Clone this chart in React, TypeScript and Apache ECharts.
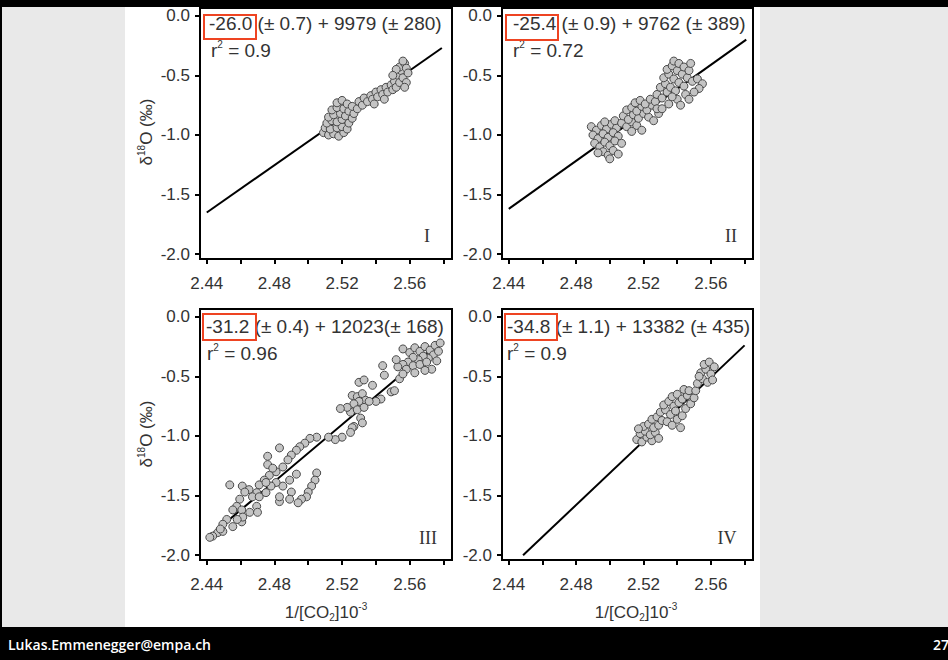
import React, { useEffect, useRef } from "react";
import * as echarts from "echarts";

// ---------- data ----------
const xLabelValues = [2.44, 2.48, 2.52, 2.56];
const xTickValues = [2.44, 2.46, 2.48, 2.5, 2.52, 2.54, 2.56, 2.58];
const yTickValues = [0, -0.5, -1, -1.5, -2];

const equationTexts = [
  "-26.0 (± 0.7) + 9979 (± 280)",
  "-25.4 (± 0.9) + 9762 (± 389)",
  "-31.2 (± 0.4) + 12023(± 168)",
  "-34.8 (± 1.1) + 13382 (± 435)",
];
const r2Values = ["0.9", "0.72", "0.96", "0.9"];
const panelNumerals = ["I", "II", "III", "IV"];

const fitLine1 = [[2.44, -1.65], [2.579, -0.27]];
const fitLine2 = [[2.44, -1.62], [2.581, -0.2]];
const fitLine3 = [[2.44, -1.86], [2.579, -0.2]];
const fitLine4 = [[2.4485, -2.0], [2.58, -0.24]];

const points1 = [
  [2.509, -0.98], [2.512, -1.0], [2.515, -0.99], [2.518, -1.01], [2.521, -0.98],
  [2.51, -0.94], [2.513, -0.95], [2.517, -0.94], [2.52, -0.93], [2.523, -0.95],
  [2.511, -0.9], [2.514, -0.88], [2.517, -0.89], [2.52, -0.87], [2.524, -0.9],
  [2.512, -0.85], [2.515, -0.83], [2.519, -0.82], [2.522, -0.84], [2.526, -0.86],
  [2.514, -0.79], [2.517, -0.77], [2.521, -0.78], [2.524, -0.8], [2.527, -0.82],
  [2.517, -0.73], [2.52, -0.71], [2.523, -0.74], [2.526, -0.76], [2.529, -0.78],
  [2.53, -0.72], [2.532, -0.75], [2.533, -0.69], [2.535, -0.72], [2.537, -0.67],
  [2.538, -0.7], [2.54, -0.64], [2.541, -0.68], [2.543, -0.62], [2.544, -0.66],
  [2.546, -0.6], [2.545, -0.7], [2.539, -0.74],
  [2.547, -0.64], [2.549, -0.58], [2.55, -0.62], [2.551, -0.55], [2.552, -0.6],
  [2.553, -0.5], [2.554, -0.56], [2.555, -0.46], [2.556, -0.52], [2.554, -0.43],
  [2.557, -0.4], [2.556, -0.38], [2.558, -0.44], [2.559, -0.48], [2.552, -0.45],
  [2.55, -0.5], [2.558, -0.56], [2.557, -0.6],
];

const points2 = [
  [2.489, -0.93], [2.492, -0.96], [2.495, -0.92], [2.498, -0.95], [2.501, -0.91],
  [2.504, -0.94], [2.49, -1.0], [2.493, -1.03], [2.496, -0.99], [2.499, -1.02],
  [2.502, -0.98], [2.505, -1.01], [2.491, -1.07], [2.494, -1.1], [2.497, -1.06],
  [2.5, -1.09], [2.503, -1.05], [2.496, -1.14], [2.499, -1.17], [2.502, -1.13],
  [2.505, -1.16], [2.5, -1.2], [2.493, -1.15], [2.507, -1.07], [2.497, -0.89],
  [2.503, -0.88],
  [2.507, -0.9], [2.51, -0.93], [2.513, -0.89], [2.516, -0.92], [2.508, -0.84],
  [2.511, -0.87], [2.514, -0.83], [2.517, -0.86], [2.52, -0.82], [2.523, -0.85],
  [2.51, -0.79], [2.513, -0.77], [2.516, -0.8], [2.519, -0.76], [2.522, -0.79],
  [2.525, -0.75], [2.515, -0.73], [2.518, -0.71], [2.521, -0.74], [2.524, -0.7],
  [2.527, -0.72], [2.519, -0.96], [2.513, -0.97], [2.526, -0.88], [2.529, -0.82],
  [2.528, -0.78],
  [2.528, -0.66], [2.531, -0.69], [2.534, -0.64], [2.53, -0.6], [2.533, -0.57],
  [2.536, -0.6], [2.539, -0.63], [2.532, -0.52], [2.535, -0.49], [2.538, -0.53],
  [2.541, -0.56], [2.544, -0.59], [2.534, -0.45], [2.537, -0.42], [2.54, -0.46],
  [2.543, -0.49], [2.546, -0.52], [2.538, -0.38], [2.541, -0.4], [2.544, -0.43],
  [2.547, -0.46], [2.549, -0.55], [2.552, -0.53], [2.555, -0.57], [2.553, -0.61],
  [2.55, -0.64], [2.545, -0.66], [2.54, -0.7], [2.535, -0.74], [2.531, -0.78],
  [2.537, -0.68], [2.542, -0.75], [2.547, -0.7], [2.548, -0.4],
];

const points3 = [
  [2.556, -0.27], [2.56, -0.3], [2.563, -0.26], [2.566, -0.29], [2.569, -0.25],
  [2.572, -0.28], [2.575, -0.24], [2.574, -0.32], [2.571, -0.35], [2.568, -0.33],
  [2.565, -0.36], [2.562, -0.34], [2.559, -0.38], [2.556, -0.4], [2.553, -0.42],
  [2.558, -0.44], [2.562, -0.41], [2.566, -0.4], [2.57, -0.38], [2.573, -0.44],
  [2.576, -0.37], [2.577, -0.29], [2.563, -0.47], [2.569, -0.45], [2.552, -0.36],
  [2.578, -0.22],
  [2.544, -0.41], [2.545, -0.49], [2.554, -0.52], [2.556, -0.48], [2.53, -0.55],
  [2.533, -0.53], [2.538, -0.575], [2.549, -0.63], [2.551, -0.62], [2.543, -0.69],
  [2.54, -0.71],
  [2.526, -0.66], [2.529, -0.67], [2.532, -0.645], [2.534, -0.7], [2.53, -0.71],
  [2.527, -0.73], [2.525, -0.8], [2.529, -0.78], [2.533, -0.76], [2.536, -0.71],
  [2.531, -0.85], [2.532, -0.89], [2.527, -0.92], [2.523, -0.76], [2.519, -0.77],
  [2.526, -0.93], [2.525, -0.97], [2.52, -1.01], [2.516, -1.03], [2.512, -1.01],
  [2.505, -1.01], [2.501, -1.02], [2.498, -1.06], [2.495, -1.09], [2.493, -1.12],
  [2.49, -1.16], [2.483, -1.1],
  [2.488, -1.2], [2.485, -1.26], [2.481, -1.3], [2.477, -1.33], [2.474, -1.37],
  [2.471, -1.41], [2.476, -1.17], [2.476, -1.24], [2.479, -1.27],
  [2.493, -1.32], [2.489, -1.37], [2.485, -1.42], [2.481, -1.39],
  [2.505, -1.31], [2.504, -1.37], [2.502, -1.42], [2.5, -1.47], [2.499, -1.51],
  [2.496, -1.53], [2.494, -1.56], [2.49, -1.47], [2.489, -1.53], [2.483, -1.55],
  [2.483, -1.51],
  [2.4536, -1.41], [2.461, -1.42], [2.465, -1.45], [2.4696, -1.475], [2.4625, -1.47],
  [2.467, -1.51], [2.471, -1.51], [2.475, -1.475], [2.478, -1.42], [2.475, -1.39],
  [2.4595, -1.53], [2.4577, -1.59], [2.4554, -1.62], [2.4607, -1.62], [2.4654, -1.64],
  [2.4695, -1.59], [2.47, -1.64],
  [2.4518, -1.7], [2.4495, -1.74], [2.4554, -1.76], [2.4607, -1.72], [2.4613, -1.68],
  [2.4465, -1.81], [2.4435, -1.84], [2.4495, -1.8], [2.4418, -1.85], [2.458, -1.7],
  [2.448, -1.78],
];

const points4 = [
  [2.516, -1.03], [2.519, -1.05], [2.522, -1.01], [2.525, -1.04], [2.518, -0.98],
  [2.521, -0.96], [2.524, -0.99], [2.527, -0.97], [2.52, -0.92], [2.523, -0.9],
  [2.526, -0.93], [2.529, -0.91], [2.525, -0.86], [2.528, -0.84], [2.531, -0.87],
  [2.529, -1.02], [2.517, -0.94],
  [2.53, -0.8], [2.533, -0.78], [2.536, -0.82], [2.532, -0.74], [2.535, -0.71],
  [2.538, -0.75], [2.541, -0.72], [2.537, -0.67], [2.54, -0.65], [2.543, -0.69],
  [2.546, -0.66], [2.534, -0.88], [2.537, -0.91], [2.54, -0.86], [2.543, -0.83],
  [2.539, -0.79], [2.545, -0.77], [2.548, -0.73], [2.55, -0.68], [2.544, -0.61],
  [2.547, -0.62], [2.551, -0.62], [2.542, -0.93],
  [2.552, -0.56], [2.555, -0.52], [2.558, -0.55], [2.554, -0.47], [2.557, -0.44],
  [2.56, -0.48], [2.556, -0.4], [2.559, -0.38], [2.562, -0.42], [2.561, -0.53],
  [2.553, -0.5],
];

const allPoints = [points1, points2, points3, points4];
const allFits = [fitLine1, fitLine2, fitLine3, fitLine4];

// ---------- layout ----------
const SANS = "'Liberation Sans', Arial, sans-serif";
const SERIF = "'Liberation Serif', 'Times New Roman', serif";
const TEXT = "#333";
const RED = "#ee4422";

const grids = [
  { left: 200, top: 8, width: 252, height: 251 },
  { left: 502, top: 8, width: 251, height: 251 },
  { left: 200, top: 309, width: 252, height: 251 },
  { left: 502, top: 309, width: 251, height: 251 },
];
const eqPos = [[209, 23], [513, 23], [206, 326], [507, 326]];
const r2Pos = [[211, 50], [513, 50], [207, 353], [507, 353]];
const boxPos = [[204, 15, 52, 24], [506, 15, 52, 25], [203, 314, 53, 26], [505, 314, 52, 26]];
const numeralPos = [[427, 236], [731, 236], [428, 538], [727, 538]];

function buildOption() {
  const xAxis = grids.map((_, i) => ({
    type: "value",
    gridIndex: i,
    min: 2.436,
    max: 2.585,
    axisLine: { show: true, onZero: false, lineStyle: { color: "#000", width: 2 } },
    axisTick: {
      show: true,
      customValues: xTickValues,
      length: 5,
      lineStyle: { color: "#000", width: 2 },
    },
    axisLabel: {
      customValues: xLabelValues,
      formatter: (v: number) => v.toFixed(2),
      color: TEXT,
      fontSize: 17,
      fontFamily: SANS,
      margin: 16,
    },
    splitLine: { show: false },
  }));
  const yAxis = grids.map((_, i) => ({
    type: "value",
    gridIndex: i,
    min: -2.04,
    max: 0.065,
    axisLine: { show: true, onZero: false, lineStyle: { color: "#000", width: 2 } },
    axisTick: {
      show: true,
      customValues: yTickValues,
      length: 5,
      lineStyle: { color: "#000", width: 2 },
    },
    axisLabel: {
      customValues: yTickValues,
      formatter: (v: number) => (Math.abs(v) < 1e-9 ? "0.0" : v.toFixed(1)),
      color: TEXT,
      fontSize: 17,
      fontFamily: SANS,
      margin: 10,
    },
    splitLine: { show: false },
  }));

  const series: any[] = [];
  allPoints.forEach((pts, i) => {
    series.push({
      type: "line",
      xAxisIndex: i,
      yAxisIndex: i,
      data: allFits[i],
      symbol: "none",
      lineStyle: { color: "#000", width: 2 },
      z: 1,
      silent: true,
    });
    series.push({
      type: "scatter",
      xAxisIndex: i,
      yAxisIndex: i,
      data: pts,
      symbol: "circle",
      symbolSize: 8,
      itemStyle: { color: "#c4c4c4", borderColor: "#4a4a4a", borderWidth: 1, opacity: 1 },
      z: 2,
      silent: true,
    });
  });

  const graphic: any[] = [];
  equationTexts.forEach((t, i) => {
    graphic.push({
      type: "text",
      x: eqPos[i][0],
      y: eqPos[i][1],
      style: {
        text: t,
        font: `19px ${SANS}`,
        fill: TEXT,
        textAlign: "left",
        textVerticalAlign: "middle",
      },
      z: 10,
    });
    graphic.push({
      type: "text",
      x: r2Pos[i][0],
      y: r2Pos[i][1],
      style: {
        text: `{a|r}{s|2}{a| = ${r2Values[i]}}`,
        rich: {
          a: { fontSize: 19, fontFamily: SANS, fill: TEXT, color: TEXT },
          s: { fontSize: 10, fontFamily: SANS, fill: TEXT, color: TEXT, padding: [0, 0, 12, 0] },
        },
        textAlign: "left",
        textVerticalAlign: "middle",
      },
      z: 10,
    });
    graphic.push({
      type: "rect",
      shape: { x: boxPos[i][0], y: boxPos[i][1], width: boxPos[i][2], height: boxPos[i][3] },
      style: { fill: "none", stroke: RED, lineWidth: 2 },
      z: 11,
    });
    graphic.push({
      type: "text",
      x: numeralPos[i][0],
      y: numeralPos[i][1],
      style: {
        text: panelNumerals[i],
        font: `18px ${SERIF}`,
        fill: TEXT,
        textAlign: "center",
        textVerticalAlign: "middle",
      },
      z: 10,
    });
  });

  // y-axis names (left panels)
  [[146, 132], [146, 434]].forEach(([x, y]) => {
    graphic.push({
      type: "text",
      x,
      y,
      rotation: Math.PI / 2,
      style: {
        text: "{a|δ}{s|18}{a|O (‰)}",
        rich: {
          a: { fontSize: 17, fontFamily: SANS, fill: TEXT, color: TEXT },
          s: { fontSize: 10, fontFamily: SANS, fill: TEXT, color: TEXT, padding: [0, 0, 10, 0] },
        },
        textAlign: "center",
        textVerticalAlign: "middle",
      },
      z: 10,
    });
  });

  // x-axis names (bottom panels)
  [[326, 612], [636, 612]].forEach(([x, y]) => {
    graphic.push({
      type: "text",
      x,
      y,
      style: {
        text: "{a|1/[CO}{b|2}{a|]10}{s|-3}",
        rich: {
          a: { fontSize: 17, fontFamily: SANS, fill: TEXT, color: TEXT },
          b: { fontSize: 10, fontFamily: SANS, fill: TEXT, color: TEXT, padding: [10, 0, 0, 0] },
          s: { fontSize: 10, fontFamily: SANS, fill: TEXT, color: TEXT, padding: [0, 0, 12, 0] },
        },
        textAlign: "center",
        textVerticalAlign: "middle",
      },
      z: 10,
    });
  });

  // footer
  graphic.push({
    type: "text",
    x: 8,
    y: 644,
    style: {
      text: "Lukas.Emmenegger@empa.ch",
      font: `600 14px 'Open Sans', sans-serif`,
      fill: "#fff",
      textAlign: "left",
      textVerticalAlign: "middle",
    },
    z: 10,
  });
  graphic.push({
    type: "text",
    x: 933,
    y: 644,
    style: {
      text: "27",
      font: `600 14px 'Open Sans', sans-serif`,
      fill: "#fff",
      textAlign: "left",
      textVerticalAlign: "middle",
    },
    z: 10,
  });

  return {
    animation: false,
    backgroundColor: "transparent",
    grid: grids.map((g) => ({
      ...g,
      show: true,
      borderColor: "#000",
      borderWidth: 2,
      backgroundColor: "transparent",
    })),
    xAxis,
    yAxis,
    series,
    graphic,
  };
}

export default function App() {
  const ref = useRef<HTMLDivElement>(null);
  useEffect(() => {
    if (!ref.current) return;
    const chart = echarts.init(ref.current, null, { renderer: "svg" });
    chart.setOption(buildOption() as any);
    return () => chart.dispose();
  }, []);
  return (
    <div style={{ position: "fixed", left: 0, top: 0, width: 948, height: 660, background: "#000" }}>
      <div style={{ position: "absolute", left: 2, top: 7, width: 123, height: 620, background: "#e9e9e9" }} />
      <div style={{ position: "absolute", left: 125, top: 7, width: 635, height: 620, background: "#fff" }} />
      <div style={{ position: "absolute", left: 760, top: 7, width: 188, height: 620, background: "#e9e9e9" }} />
      <div ref={ref} style={{ position: "absolute", left: 0, top: 0, width: 948, height: 660 }} />
    </div>
  );
}
